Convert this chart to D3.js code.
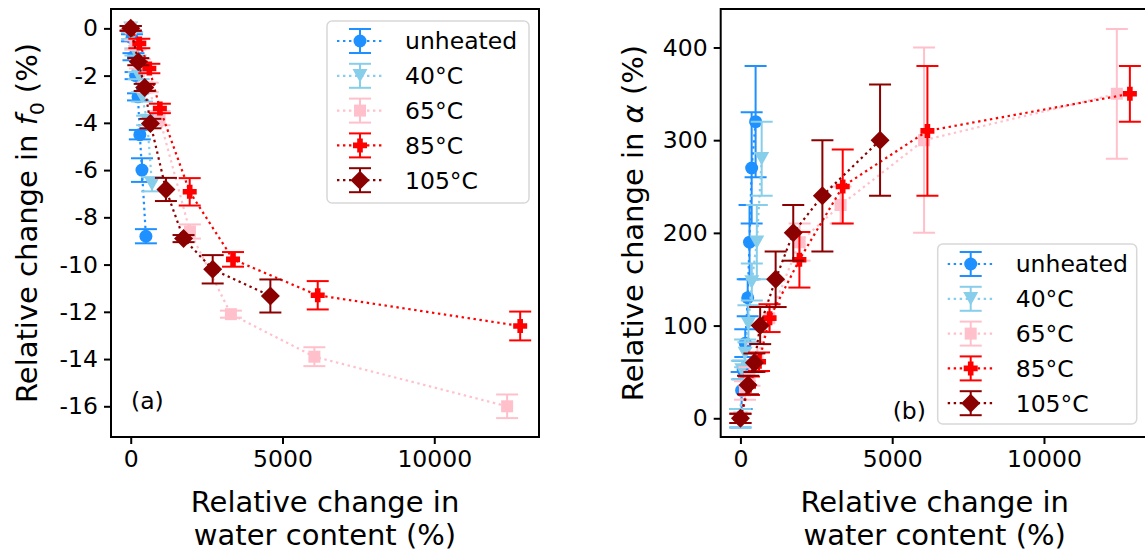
<!DOCTYPE html>
<html>
<head>
<meta charset="utf-8">
<script src="https://cdn.jsdelivr.net/npm/d3@7"></script>
<style>
  body { margin: 0; background: #fff; }
  svg { font-family: "DejaVu Sans", sans-serif; }
</style>
</head>
<body>
<script>
// series labels, colours and markers
var labels = ["unheated", "40°C", "65°C", "85°C", "105°C"]
var colors = ["#1e90ff", "#87ceeb", "#ffc0cb", "#ff0000", "#8b0000"]
var markers = ["circle", "triDown", "square", "plus", "diamond"]

// relative change in water content (%)
var xUnheated = [0, 40, 90, 160, 240, 300, 370, 500]
var x40 = [0, 46, 155, 264, 375, 540, 700]
var x65 = [0, 150, 300, 560, 950, 1950, 3300, 6050, 12400]
var x85 = [0, 283, 613, 960, 1943, 3370, 6160, 12830]
var x105 = [0, 250, 460, 650, 1160, 1740, 2700, 4600]

// relative change in f0 (%) and its error
var f0Unheated = [0, -0.4, -1.2, -2.0, -2.9, -4.5, -6.0, -8.8]
var f0ErrUnheated = [0.1, 0.15, 0.15, 0.15, 0.15, 0.2, 0.5, 0.3]
var f040 = [0, -0.3, -1.0, -2.0, -2.9, -3.9, -6.6]
var f0Err40 = [0.1, 0.15, 0.15, 0.15, 0.2, 0.2, 0.3]
var f065 = [0, -0.7, -1.5, -2.5, -3.8, -8.6, -12.1, -13.9, -16.0]
var f0Err65 = [0.1, 0.2, 0.2, 0.2, 0.3, 0.3, 0.15, 0.4, 0.5]
var f085 = [0, -0.64, -1.7, -3.39, -6.92, -9.78, -11.3, -12.6]
var f0Err85 = [0.1, 0.2, 0.2, 0.2, 0.58, 0.31, 0.6, 0.61]
var f0105 = [0, -1.41, -2.5, -4.03, -6.82, -8.9, -10.2, -11.33]
var f0Err105 = [0.1, 0.15, 0.15, 0.2, 0.49, 0.15, 0.6, 0.7]

// relative change in alpha (%) and its error
var aUnheated = [0, 30, 52, 81, 130, 190, 270, 320]
var aErrUnheated = [10, 20, 10, 15, 20, 40, 60, 60]
var a40 = [0, 52, 70, 102, 147, 190, 280]
var aErr40 = [10, 10, 15, 20, 20, 40, 40]
var a65 = [0, 30, 45, 65, 108, 190, 230, 300, 350]
var aErr65 = [5, 10, 10, 15, 15, 20, 20, 100, 70]
var a85 = [0, 35, 61, 108, 171, 250, 310, 350]
var aErr85 = [5, 10, 10, 15, 30, 40, 70, 30]
var a105 = [0, 36, 60, 100, 150, 200, 240, 300]
var aErr105 = [5, 10, 10, 20, 30, 30, 60, 60]

var xTicks = [0, 5000, 10000]
var f0Ticks = [0, -2, -4, -6, -8, -10, -12, -14, -16]
var aTicks = [0, 100, 200, 300, 400]

function build(xs, ys, es) {
  return xs.map(function(x, i) { return {x: x, y: ys[i], e: es[i]} })
}

var f0Series = [
  build(xUnheated, f0Unheated, f0ErrUnheated),
  build(x40, f040, f0Err40),
  build(x65, f065, f0Err65),
  build(x85, f085, f0Err85),
  build(x105, f0105, f0Err105)
]
var aSeries = [
  build(xUnheated, aUnheated, aErrUnheated),
  build(x40, a40, aErr40),
  build(x65, a65, aErr65),
  build(x85, a85, aErr85),
  build(x105, a105, aErr105)
]

var W = 1145, H = 557
var pw = 428, ph = 428

var svg = d3.select("body").append("svg")
    .attr("width", W)
    .attr("height", H)

// marker path around (0,0)
function markerPath(kind) {
  var p = d3.path()
  if (kind == "circle") {
    p.arc(0, 0, 6.5, 0, 2 * Math.PI)
  } else if (kind == "triDown") {
    var s = 7.5
    p.moveTo(-s, -s * 0.9); p.lineTo(s, -s * 0.9); p.lineTo(0, s * 0.9)
  } else if (kind == "square") {
    var s = 6
    p.rect(-s, -s, 2 * s, 2 * s)
  } else if (kind == "plus") {
    var a = 7, b = 2.8
    p.moveTo(-b, -a); p.lineTo(b, -a); p.lineTo(b, -b); p.lineTo(a, -b); p.lineTo(a, b)
    p.lineTo(b, b); p.lineTo(b, a); p.lineTo(-b, a); p.lineTo(-b, b); p.lineTo(-a, b)
    p.lineTo(-a, -b); p.lineTo(-b, -b)
  } else {
    var s = 9.5
    p.moveTo(0, -s); p.lineTo(s, 0); p.lineTo(0, s); p.lineTo(-s, 0)
  }
  p.closePath()
  return p.toString()
}

function drawLegend(g, lx, ly, w, h) {
  var leg = g.append("g").attr("transform", "translate(" + lx + "," + ly + ")")
  leg.append("rect")
      .attr("width", w).attr("height", h)
      .attr("rx", 5)
      .attr("fill", "#fff").attr("fill-opacity", 0.85)
      .attr("stroke", "#d8d8d8").attr("stroke-width", 1.5)
  labels.forEach(function(lab, i) {
    var row = leg.append("g").attr("transform", "translate(0," + (20 + i * 34.8) + ")")
    row.append("line")
        .attr("x1", 10).attr("x2", 56)
        .attr("stroke", colors[i]).attr("stroke-width", 2.2)
        .attr("stroke-dasharray", "2.4 3.6")
    row.append("line")
        .attr("x1", 33).attr("x2", 33).attr("y1", -12).attr("y2", 12)
        .attr("stroke", colors[i]).attr("stroke-width", 2)
    row.selectAll(".cap").data([-12, 12]).enter().append("line")
        .attr("x1", 22).attr("x2", 44).attr("y1", function(d) { return d }).attr("y2", function(d) { return d })
        .attr("stroke", colors[i]).attr("stroke-width", 2)
    row.append("path")
        .attr("transform", "translate(33,0)")
        .attr("d", markerPath(markers[i]))
        .attr("fill", colors[i])
    row.append("text")
        .attr("x", 78).attr("dy", "0.36em")
        .style("font-size", "23.5px")
        .text(lab)
  })
}

function panel(ox, oy, yDomain, yTicks, series, opts) {
  var g = svg.append("g").attr("transform", "translate(" + ox + "," + oy + ")")
  var x = d3.scaleLinear().domain([-650, 13450]).range([0, pw])
  var y = d3.scaleLinear().domain(yDomain).range([ph, 0])

  var clip = "clip" + opts.id
  g.append("clipPath").attr("id", clip)
    .append("rect").attr("width", pw).attr("height", ph)

  var plot = g.append("g").attr("clip-path", "url(#" + clip + ")")

  var line = d3.line()
      .x(function(d) { return x(d.x) })
      .y(function(d) { return y(d.y) })

  series.forEach(function(data, i) {
    var s = plot.append("g")
    s.append("path")
        .datum(data)
        .attr("d", line)
        .attr("fill", "none")
        .attr("stroke", colors[i])
        .attr("stroke-width", 2.2)
        .attr("stroke-dasharray", "2.4 3.6")
    var eb = s.selectAll(".eb").data(data).enter().append("g")
    eb.append("line")
        .attr("x1", function(d) { return x(d.x) }).attr("x2", function(d) { return x(d.x) })
        .attr("y1", function(d) { return y(d.y - d.e) }).attr("y2", function(d) { return y(d.y + d.e) })
        .attr("stroke", colors[i]).attr("stroke-width", 2)
    ;[-1, 1].forEach(function(sg) {
      eb.append("line")
          .attr("x1", function(d) { return x(d.x) - 11 }).attr("x2", function(d) { return x(d.x) + 11 })
          .attr("y1", function(d) { return y(d.y + sg * d.e) }).attr("y2", function(d) { return y(d.y + sg * d.e) })
          .attr("stroke", colors[i]).attr("stroke-width", 2)
    })
    s.selectAll(".mk").data(data).enter().append("path")
        .attr("transform", function(d) { return "translate(" + x(d.x) + "," + y(d.y) + ")" })
        .attr("d", markerPath(markers[i]))
        .attr("fill", colors[i])
  })

  // axes
  var xAxis = g.append("g").attr("transform", "translate(0," + ph + ")")
      .call(d3.axisBottom(x).tickValues(xTicks).tickSize(7).tickPadding(6).tickFormat(d3.format("d")))
  var yAxis = g.append("g")
      .call(d3.axisLeft(y).tickValues(yTicks).tickSize(7).tickPadding(6).tickFormat(function(d) { return String(d) }))
  ;[xAxis, yAxis].forEach(function(a) {
    a.select(".domain").remove()
    a.selectAll(".tick line").attr("stroke", "#000").attr("stroke-width", 2)
    a.selectAll(".tick text").style("font-size", "23.5px").attr("fill", "#000")
        .style("font-family", "DejaVu Sans")
  })

  g.append("rect")
      .attr("width", pw).attr("height", ph)
      .attr("fill", "none").attr("stroke", "#000").attr("stroke-width", 2)

  g.append("text")
      .attr("x", opts.tagX).attr("y", opts.tagY)
      .style("font-size", "23.5px")
      .text(opts.tag)

  drawLegend(g, opts.legX, opts.legY, opts.legW, opts.legH)

  // axis labels
  var xl = g.append("text")
      .attr("text-anchor", "middle")
      .style("font-size", "29px")
  xl.append("tspan").attr("x", pw / 2).attr("y", 503).text("Relative change in")
  xl.append("tspan").attr("x", pw / 2).attr("y", 536).text("water content (%)")

  var yl = g.append("text")
      .attr("text-anchor", "middle")
      .attr("transform", "translate(" + opts.ylabX + "," + (ph / 2) + ") rotate(-90)")
      .style("font-size", "29px")
  opts.ylab(yl)
}

panel(111, 9, [-17.3, 0.82], f0Ticks, f0Series, {
  id: "a", tag: "(a)", tagX: 20, tagY: 400,
  legX: 216, legY: 12, legW: 202, legH: 182,
  ylabX: -74,
  ylab: function(t) {
    t.append("tspan").text("Relative change in ")
    t.append("tspan").style("font-style", "italic").text("f")
    t.append("tspan").attr("dy", 7).style("font-size", "20px").text("0")
    t.append("tspan").attr("dy", -7).text(" (%)")
  }
})

panel(720.7, 9, [-20.2, 441.5], aTicks, aSeries, {
  id: "b", tag: "(b)", tagX: 172, tagY: 410,
  legX: 217, legY: 235, legW: 199, legH: 180,
  ylabX: -78,
  ylab: function(t) {
    t.append("tspan").text("Relative change in ")
    t.append("tspan").style("font-style", "italic").text("α")
    t.append("tspan").text(" (%)")
  }
})
</script>
</body>
</html>
